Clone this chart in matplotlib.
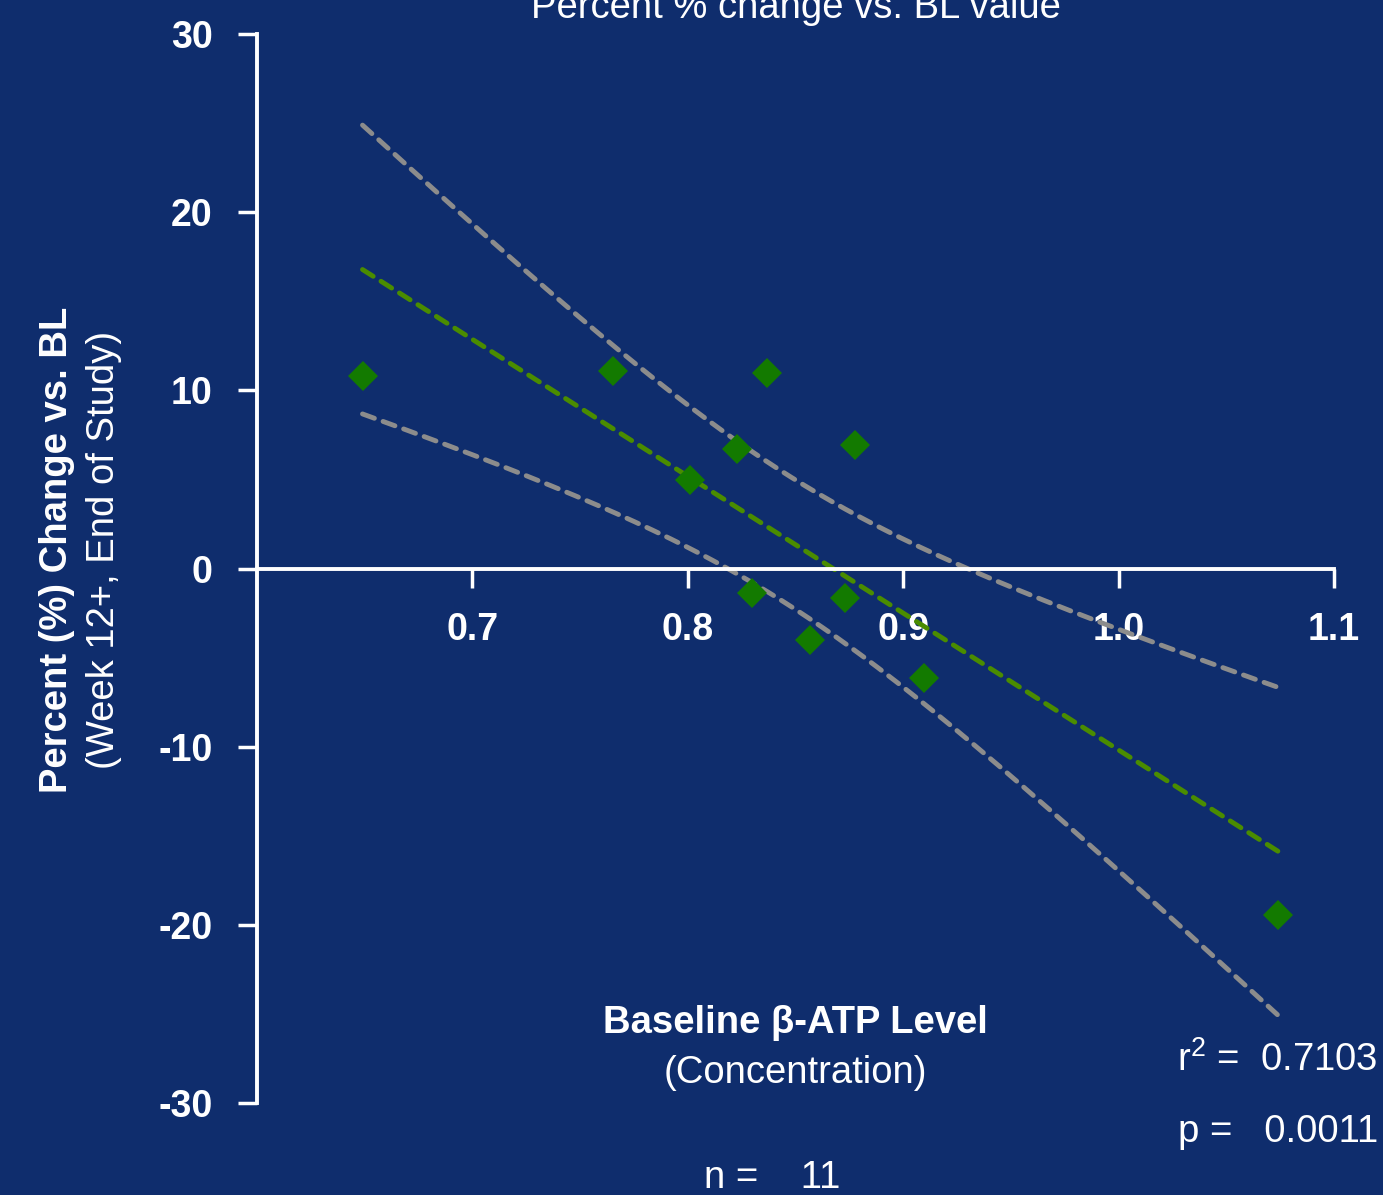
import numpy as np
import matplotlib
matplotlib.use('Agg')
import matplotlib.pyplot as plt

###############################
# data
###############################
bl_atp = [0.649, 0.7655, 0.8369, 0.8229, 0.8776, 0.8012, 0.8299, 0.873, 0.8568, 0.9096, 1.0742]
pct_change = [10.8, 11.08, 10.97, 6.7, 6.93, 4.97, -1.37, -1.66, -4.01, -6.14, -19.44]
x_ticks = [0.7, 0.8, 0.9, 1.0, 1.1]
x_ticklabels = ['0.7', '0.8', '0.9', '1.0', '1.1']
y_ticks = [-30, -20, -10, 0, 10, 20, 30]
r2_text = '0.7103'
p_text = '0.0011'
n_text = '11'
t_crit = 2.262  # t(0.975, df=9)

bg = '#0f2d6d'
plt.rcParams['font.family'] = ['Liberation Sans', 'DejaVu Sans']
plt.rcParams['axes.unicode_minus'] = False
plt.rcParams['mathtext.fontset'] = 'custom'
plt.rcParams['mathtext.rm'] = 'Liberation Sans'
plt.rcParams['mathtext.it'] = 'Liberation Sans'

###############################
# linear fit and 95% band
###############################
x = np.array(bl_atp)
y = np.array(pct_change)
slope, icept = np.polyfit(x, y, 1)
resid = y - (slope * x + icept)
s = np.sqrt(np.sum(resid ** 2) / (len(x) - 2))
xs = np.linspace(x.min(), x.max(), 200)
fit = slope * xs + icept
se = s * np.sqrt(1.0 / len(x) + (xs - x.mean()) ** 2 / np.sum((x - x.mean()) ** 2))
upper = fit + t_crit * se
lower = fit - t_crit * se

###############################
# plot
###############################
fig = plt.figure(figsize=(13.83, 11.95), dpi=100, facecolor=bg)
ax = fig.add_axes([0.1858, 0.0770, 0.7788, 0.8945], facecolor=bg)

dash_kw = dict(linewidth=3.5, dashes=(2.6, 1.9), dash_capstyle='round')
ax.plot(xs, upper, color='#8c8c8c', **dash_kw)
ax.plot(xs, lower, color='#8c8c8c', **dash_kw)
ax.plot(xs, fit, color='#4a8c00', **dash_kw)
ax.plot(x, y, linestyle='none', marker='D', markersize=15, color='#137a00',
        markeredgewidth=0, zorder=5)

ax.set_xlim(0.6, 1.1)
ax.set_ylim(-30, 30)
ax.spines['top'].set_visible(False)
ax.spines['right'].set_visible(False)
ax.spines['bottom'].set_position(('data', 0))
for sp in ['left', 'bottom']:
    ax.spines[sp].set_color('white')
    ax.spines[sp].set_linewidth(2.8)
    ax.spines[sp].set_capstyle('projecting')

ax.set_xticks(x_ticks)
ax.set_xticklabels(x_ticklabels)
ax.set_yticks(y_ticks)
ax.tick_params(colors='white', width=2.5, length=14, labelsize=27, direction='out')
ax.tick_params(axis='x', pad=17)
ax.tick_params(axis='y', pad=18)
for lab in ax.get_xticklabels() + ax.get_yticklabels():
    lab.set_fontweight('bold')

# titles and labels
fs = 27.5
fig.text(796 / 1383, 1 - 18 / 1195, 'Percent % change vs. BL value', color='white',
         fontsize=fs, ha='center', va='baseline')
fig.text(57 / 1383, 1 - 550 / 1195, 'Percent (%) Change vs. BL', color='white',
         fontsize=fs, fontweight='bold', rotation=90, ha='center', va='center')
fig.text(104 / 1383, 1 - 550 / 1195, '(Week 12+, End of Study)', color='white',
         fontsize=fs, rotation=90, ha='center', va='center')
fig.text(795 / 1383, 1 - 1023 / 1195, 'Baseline \u03b2-ATP Level', color='white',
         fontsize=fs, fontweight='bold', ha='center', va='center')
fig.text(795 / 1383, 1 - 1073 / 1195, '(Concentration)', color='white',
         fontsize=fs, ha='center', va='center')
fig.text(772 / 1383, 1 - 1178 / 1195, 'n =    ' + n_text, color='white',
         fontsize=fs, ha='center', va='center')
fig.text(1378 / 1383, 1 - 1060 / 1195, r'r$^{2}$ =  ' + r2_text, color='white',
         fontsize=fs, ha='right', va='center')
fig.text(1378 / 1383, 1 - 1132 / 1195, 'p =   ' + p_text, color='white',
         fontsize=fs, ha='right', va='center')

fig.savefig('out.png', dpi=100, facecolor=bg)
